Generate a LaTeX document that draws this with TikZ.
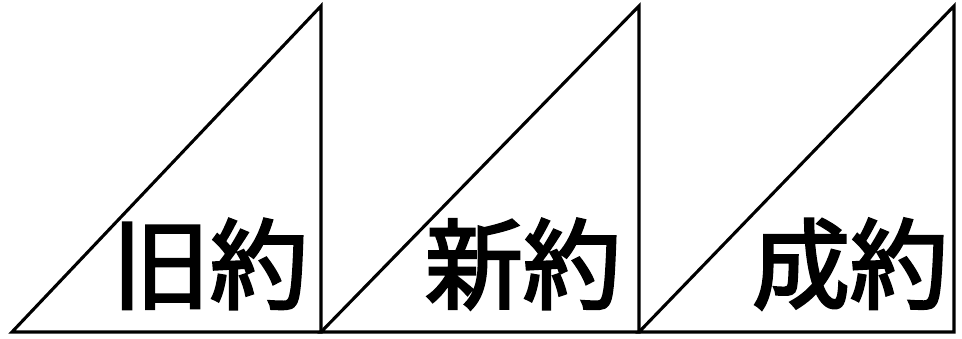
\documentclass[tikz,border=0pt]{standalone}
\usepackage{fontspec}
\newfontfamily\cjk[FakeBold=2.8]{Noto Sans CJK JP}
\begin{document}
\begin{tikzpicture}[x=1pt,y=-1pt,
  tri/.style={draw=black,line width=3.1pt,line join=miter},
  lbl/.style={font=\cjk\fontsize{98}{100}\selectfont,inner sep=0pt,anchor=center}]
\useasboundingbox (0,0) rectangle (962,338);
\draw[tri] (12,332) -- (321,332) -- (321,6) -- cycle;
\draw[tri] (321,332) -- (639,332) -- (639,6) -- cycle;
\draw[tri] (639,332) -- (954,332) -- (954,6) -- cycle;
\node[lbl] (t1) at (210,264) {旧約};
\node[lbl] (t2) at (523,264) {新約};
\node[lbl] (t3) at (850,264) {成約};
\end{tikzpicture}
\end{document}
